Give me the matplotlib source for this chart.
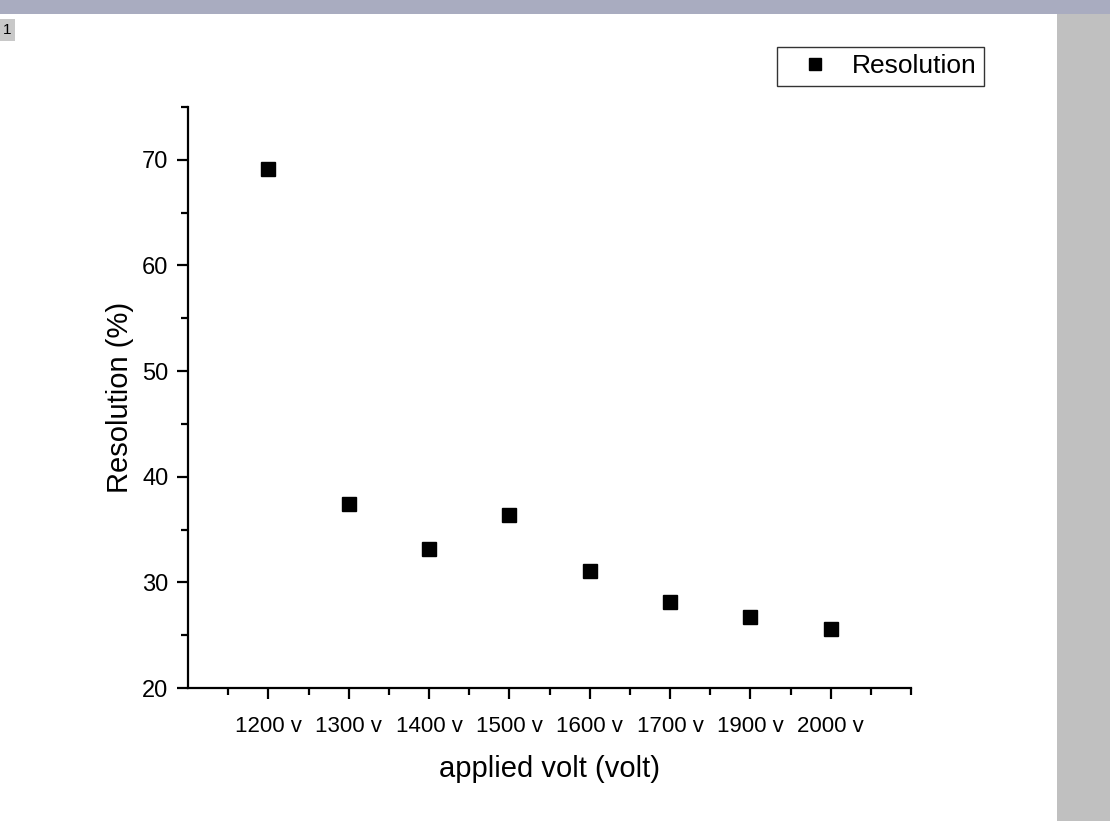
import matplotlib
matplotlib.use("Agg")
import matplotlib.pyplot as plt
from matplotlib.patches import Rectangle

plt.rcParams['font.family'] = ['Liberation Sans', 'DejaVu Sans']

categories = ["1200 v", "1300 v", "1400 v", "1500 v", "1600 v", "1700 v", "1900 v", "2000 v"]
resolution = [69.1, 37.4, 33.2, 36.4, 31.1, 28.1, 26.7, 25.6]

fig = plt.figure(figsize=(11.1, 8.21), dpi=100)
fig.patch.set_facecolor('white')

# window decorations (Origin screenshot)
fig.add_artist(Rectangle((1057/1110, 0), 53/1110, 1, transform=fig.transFigure,
                         facecolor='#c0c0c0', edgecolor='none', zorder=0))
fig.add_artist(Rectangle((0, 1 - 14/821), 1, 14/821, transform=fig.transFigure,
                         facecolor='#a9acc0', edgecolor='none', zorder=0))
fig.text(3/1110, 1 - 30/821, "1", fontsize=11, va='center', ha='left',
         bbox=dict(facecolor='#c8c8c8', edgecolor='none', pad=2.5))

ax = fig.add_axes([188/1110, 1 - 688/821, (911 - 188)/1110, (688 - 107)/821])
x = list(range(1, len(categories) + 1))
ax.plot(x, resolution, linestyle='none', marker='s', markersize=10, color='black',
        label='Resolution', clip_on=False)

ax.set_xlim(0, 9)
ax.set_ylim(20, 75)
ax.set_xticks(x)
ax.set_xticklabels(categories)
ax.set_xticks([i + 0.5 for i in range(0, 9)] + [9], minor=True)
ax.set_yticks([20, 30, 40, 50, 60, 70])
ax.set_yticks([25, 35, 45, 55, 65, 75], minor=True)

for s in ['top', 'right']:
    ax.spines[s].set_visible(False)
for s in ['left', 'bottom']:
    ax.spines[s].set_linewidth(1.6)

ax.tick_params(axis='both', which='major', length=8, width=1.6, direction='out')
ax.tick_params(axis='both', which='minor', length=5, width=1.6, direction='out')
ax.tick_params(axis='x', which='major', pad=12, labelsize=16)
ax.tick_params(axis='y', which='major', pad=6, labelsize=17)

ax.set_xlabel('applied volt (volt)', fontsize=21, labelpad=13)
ax.set_ylabel('Resolution (%)', fontsize=21, labelpad=6)

leg = ax.legend(loc='upper left', bbox_to_anchor=(777/1110, 1 - 47/821),
                bbox_transform=fig.transFigure, frameon=True, fancybox=False,
                fontsize=19, handlelength=2.3, markerscale=0.85, borderpad=0.28,
                handletextpad=0.25, borderaxespad=0)
leg.get_frame().set_edgecolor('black')
leg.get_frame().set_linewidth(1.0)

fig.savefig('out.png', dpi=100, facecolor=fig.get_facecolor())
